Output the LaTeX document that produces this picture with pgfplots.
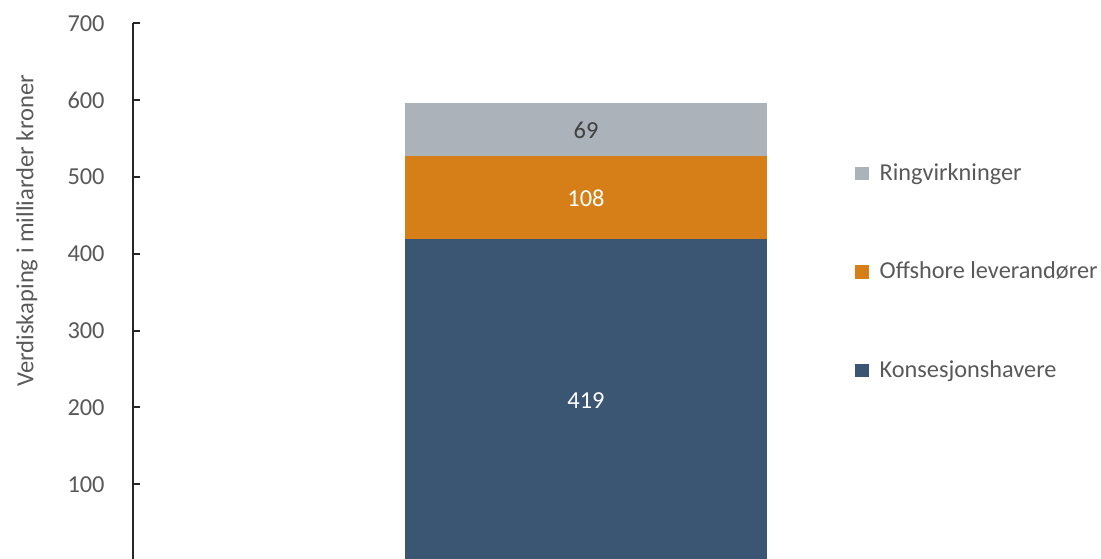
\documentclass[border=0pt]{standalone}
\usepackage{pgfplots}
\pgfplotsset{compat=1.18}
\usepackage{fontspec}
\setmainfont{Carlito}
\definecolor{cgrey}{RGB}{171,178,185}
\definecolor{corange}{RGB}{214,126,23}
\definecolor{cblue}{RGB}{58,86,115}
\definecolor{ctext}{RGB}{89,89,89}
\definecolor{clab}{RGB}{64,64,64}
\begin{document}
\fontsize{12.4bp}{14.5bp}\selectfont
\begin{tikzpicture}
\useasboundingbox (0,0) rectangle (550.5bp,279.5bp);
\begin{axis}[
  at={(66.5bp,0bp)}, anchor=south west,
  scale only axis,
  width=453bp, height=267.75bp,
  ybar stacked, bar width=181bp,
  xmin=-1, xmax=1,
  ymin=2.7, ymax=700,
  axis x line=none,
  axis y line=left,
  axis line style={-, draw=black!85, line width=1bp},
  ytick={100,200,...,700},
  tick align=inside,
  major tick length=3.6bp,
  ytick style={draw=black!85, line width=1bp},
  yticklabel style={inner sep=0pt, xshift=-14bp, text=ctext, font=\fontsize{12.2bp}{14.5bp}\selectfont},
  /pgf/number format/assume math mode=true,
  ylabel={Verdiskaping i milliarder kroner},
  ylabel style={at={(axis description cs:-0.117,0.613)}, anchor=center, inner sep=0pt, text=ctext, font=\fontsize{12.3bp}{15bp}\selectfont},
  legend style={draw=none, fill=none, at={(axis description cs:0.797,0.535)}, anchor=west,
    inner sep=0pt, row sep=37.25bp, font=\fontsize{12.15bp}{14.5bp}\selectfont, text=ctext,
    nodes={inner xsep=5.3bp, inner ysep=0pt, text height=9bp, text depth=3bp}},
  legend cell align=left,
  reverse legend,
  legend image code/.code={\fill[#1] (0bp,-3.1bp) rectangle (6.8bp,3.7bp);},
  nodes near coords,
  clip=true,
]
\addplot[draw=none, fill=cblue, nodes near coords style={anchor=center, text=white, font=\fontsize{12.2bp}{14.5bp}\selectfont}] coordinates {(0,419)};
\addlegendentry{Konsesjonshavere}
\addplot[draw=none, fill=corange, nodes near coords style={anchor=center, text=white, font=\fontsize{12.2bp}{14.5bp}\selectfont}] coordinates {(0,108)};
\addlegendentry{Offshore leverandører}
\addplot[draw=none, fill=cgrey, nodes near coords style={anchor=center, text=clab, font=\fontsize{12.2bp}{14.5bp}\selectfont}] coordinates {(0,69)};
\addlegendentry{Ringvirkninger}
\end{axis}
\end{tikzpicture}
\end{document}
